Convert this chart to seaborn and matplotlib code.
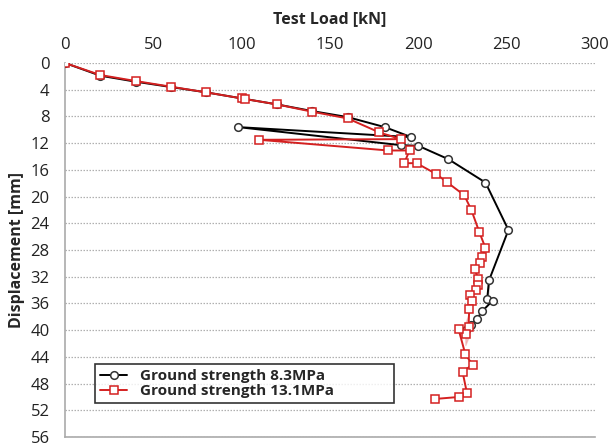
import matplotlib
matplotlib.use("Agg")
import matplotlib.pyplot as plt
import seaborn as sns
import pandas as pd

black_load = [0, 20, 40, 60, 80, 100, 120, 140, 160, 181, 196, 98, 190, 200, 217, 238, 251,
              240, 240, 239, 242, 239, 236, 233, 230, 227]
black_disp = [0, 1.9, 2.8, 3.6, 4.4, 5.3, 6.2, 7.2, 8.1, 9.6, 11.1, 9.6, 12.3, 12.4, 14.4, 17.9, 25.0,
              31.9, 33.2, 34.4, 35.6, 36.2, 37.2, 38.4, 39.2, 40.0]

red_load = [0, 20, 40, 60, 80, 100, 102, 120, 140, 160, 178, 190, 110, 183, 195, 192, 199, 210, 216,
            226, 230, 234.5, 238, 236, 235, 232, 234, 233.5, 232.6, 229.4, 230.3, 228.8, 228.4, 226.9,
            222.8, 228.4, 226.9, 226.6, 226.6, 230.7, 225, 227.5, 223.2, 209.6]
red_disp = [0, 1.8, 2.7, 3.55, 4.4, 5.3, 5.4, 6.2, 7.3, 8.3, 10.4, 11.4, 11.5, 13.1, 13.1, 15.0, 15.0, 16.6, 17.8,
            19.8, 22.0, 25.3, 27.7, 29.1, 30.0, 30.9, 32.4, 33.2, 34.0, 34.7, 35.7, 36.9, 37.9, 39.0,
            39.9, 41.3, 42.3, 43.1, 44.1, 45.2, 46.2, 49.4, 50.0, 50.3]

label_black = "Ground strength 8.3MPa"
label_red = "Ground strength 13.1MPa"
x_title = "Test Load [kN]"
y_title = "Displacement [mm]"
x_ticks = [0, 50, 100, 150, 200, 250, 300]
y_ticks = list(range(0, 57, 4))

sns.set_theme(style="white")
plt.rcParams['font.family'] = ['Open Sans', 'DejaVu Sans']

fig = plt.figure(figsize=(6.09, 4.46), dpi=100)
ax = fig.add_axes([65/609, 9/446, 530/609, 374/446])

dfb = pd.DataFrame({"load": black_load, "disp": black_disp})
dfr = pd.DataFrame({"load": red_load, "disp": red_disp})

sns.lineplot(data=dfb, x="load", y="disp", sort=False, ax=ax, color="black", lw=1.4,
             marker="o", markersize=5.5, markerfacecolor="white", markeredgecolor="#333333",
             markeredgewidth=1.1, label=label_black, zorder=3)
sns.lineplot(data=dfr, x="load", y="disp", sort=False, ax=ax, color="#d42020", lw=1.4,
             marker="s", markersize=5.5, markerfacecolor="white", markeredgecolor="#d42020",
             markeredgewidth=1.1, label=label_red, zorder=4)

ax.set_xlim(0, 300)
ax.set_ylim(56, 0)
ax.set_xticks(x_ticks)
ax.set_yticks(y_ticks)
ax.xaxis.tick_top()
ax.xaxis.set_label_position("top")
ax.set_xlabel(x_title, fontsize=11.5, fontweight="bold", labelpad=10)
ax.set_ylabel(y_title, fontsize=11.5, fontweight="bold", labelpad=4)
ax.tick_params(axis="x", labelsize=12, length=0, pad=7)
ax.tick_params(axis="y", labelsize=12, length=0, pad=11)
for lab in ax.get_xticklabels() + ax.get_yticklabels():
    lab.set_color("#222222")

ax.yaxis.grid(True, linestyle=(0, (1.2, 1.2)), color="#b0b0b0", lw=0.9)
ax.xaxis.grid(False)
for s in ["top", "right"]:
    ax.spines[s].set_visible(False)
for s in ["left", "bottom"]:
    ax.spines[s].set_color("#aaaaaa")
    ax.spines[s].set_linewidth(1.2)

leg = ax.legend(loc="lower left", bbox_to_anchor=(0.057, 0.091, 0.563, 0.11), mode="expand",
                frameon=True, fancybox=False,
                edgecolor="black", prop={"weight": "bold", "size": 11}, handlelength=1.8,
                borderpad=0.3, labelspacing=0.1, handletextpad=0.8, borderaxespad=0)
leg.get_frame().set_linewidth(1.2)

fig.savefig("out.png", dpi=100)
